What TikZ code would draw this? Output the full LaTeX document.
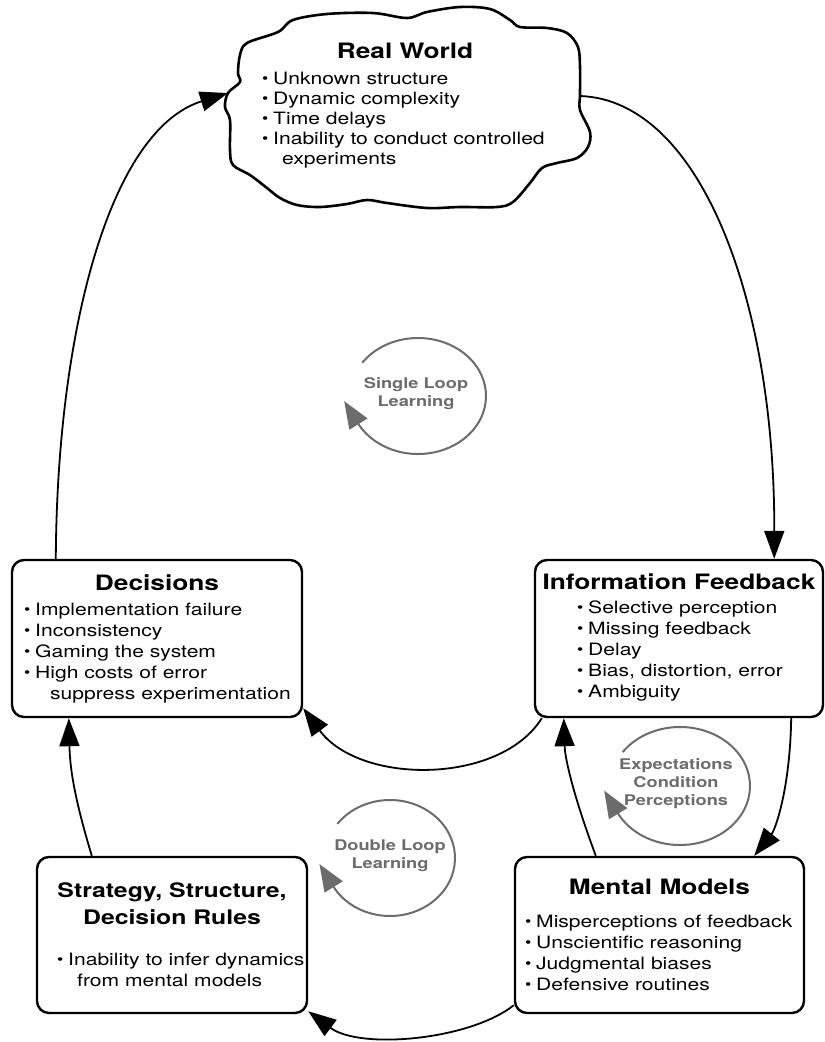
\documentclass[tikz,border=0pt]{standalone}
\usepackage{fontspec}
\setmainfont{TeX Gyre Heros}[FakeStretch=1.24]
\usetikzlibrary{arrows.meta}
\definecolor{loopgray}{RGB}{108,108,108}
\newcommand\bul{\makebox[11pt][l]{\raisebox{1.5pt}{\scalebox{0.85}{•}}}}

\begin{document}
\begin{tikzpicture}[x=1pt,y=-1pt,
  box/.style={draw,line width=2.4pt,rounded corners=12pt,fill=white,inner sep=0pt},
  head/.style={font=\fontsize{21.2}{27}\selectfont\bfseries,align=center,inner sep=0pt},
  items/.style={font=\fontsize{17}{21}\selectfont,align=left,anchor=north west,inner sep=0pt},
  loop/.style={text=loopgray,font=\fontsize{14.7}{18}\selectfont\bfseries,align=center,inner sep=0pt},
  link/.style={line width=1.8pt,-{Triangle[length=28pt,width=20pt]}},
  turn/.style={draw=loopgray,line width=2pt,shorten >=-26pt,-{Triangle[length=27pt,width=21pt]}}]
\useasboundingbox[fill=white] (0,0) rectangle (825,1042);

% real world cloud
\draw[line width=2.6pt,fill=white] plot[smooth cycle,tension=0.55] coordinates {
  (247,43) (278,32) (293,20) (327,14) (373,13) (407,18) (427,12) (460,7) (490,9)
  (510,20) (520,27) (547,28) (567,33) (578,47) (580,67) (580,95) (580,110) (590,132)
  (588,147) (577,158) (557,163) (542,168) (530,183) (513,202) (497,207) (460,207)
  (427,208) (387,203) (367,200) (347,204) (320,207) (297,205) (280,198) (267,188)
  (250,175) (233,165) (230,150) (230,120) (225,107) (228,93) (240,82) (238,73) (240,55)};
\coordinate (wIn) at (228,93);
\coordinate (wOut) at (580,96);
\node[head] (worldT) at (405,51) {Real World};
\node[items,font=\fontsize{17}{20}\selectfont] (worldL) at (262,72) {\bul Unknown structure\\ \bul Dynamic complexity\\ \bul Time delays\\
  \bul Inability to conduct controlled\\ \hspace*{20pt}experiments};

% boxes
\node[box,minimum width=290pt,minimum height=157pt] (dec) at (157,638.5) {};
\node[head] (decT) at (157,583) {Decisions};
\node[items] (decL) at (24,603) {\bul Implementation failure\\ \bul Inconsistency\\ \bul Gaming the system\\
  \bul High costs of error\\ \hspace*{26pt}suppress experimentation};

\node[box,minimum width=288pt,minimum height=157pt] (info) at (679,638.5) {};
\node[head] (infoT) at (679,582) {Information Feedback};
\node[items] (infoL) at (577,601) {\bul Selective perception\\ \bul Missing feedback\\ \bul Delay\\
  \bul Bias, distortion, error\\ \bul Ambiguity};

\node[box,minimum width=289pt,minimum height=156pt] (mm) at (659.5,935) {};
\node[head] (mmT) at (659.5,887) {Mental Models};
\node[items] (mmL) at (525,915) {\bul Misperceptions of feedback\\ \bul Unscientific reasoning\\
  \bul Judgmental biases\\ \bul Defensive routines};

\node[box,minimum width=270pt,minimum height=156pt] (strat) at (172,935) {};
\node[head,font=\fontsize{20}{27}\selectfont\bfseries] (stratT) at (172,903.5) {Strategy, Structure,\\Decision Rules};
\node[items] (stratL) at (57,953) {\bul Inability to infer dynamics\\ \hspace*{20pt}from mental models};

% loops
\node[loop] (single) at (416,394) {Single Loop\\Learning};
\draw[turn] (single.center) ++(2,2) ++(145:68pt and 58pt) arc[start angle=145,end angle=-152,x radius=68pt,y radius=58pt];
\node[loop] (expect) at (676,784) {Expectations\\Condition\\Perceptions};
\draw[turn] (expect.center) ++(4,2) ++(145:70pt and 59pt) arc[start angle=145,end angle=-153,x radius=70pt,y radius=59pt];
\node[loop] (double) at (390,856) {Double Loop\\Learning};
\draw[turn] (double.center) ++(0,2) ++(144:65pt and 58pt) arc[start angle=144,end angle=-151,x radius=65pt,y radius=58pt];

% links
\draw[link] (wOut) .. controls (700,100) and (775,300) .. ([xshift=-50pt]info.north east);
\draw[link] ([xshift=45pt]dec.north west) .. controls (57,330) and (110,130) .. (wIn);
\draw[link] ([xshift=8pt]info.south west) .. controls (500,785) and (360,785) .. ([yshift=10pt]dec.south east);
\draw[link] ([xshift=82pt]mm.north west) .. controls (575,800) and (565,760) .. ([xshift=30pt]info.south west);
\draw[link] ([xshift=-33pt]info.south east) .. controls (790,790) and (775,830) .. ([xshift=-51pt]mm.north east);
\draw[link] ([xshift=56pt]strat.north west) .. controls (75,800) and (70,770) .. ([xshift=58pt]dec.south west);
\draw[link] ([yshift=9pt]mm.south west) .. controls (470,1040) and (360,1050) .. ([yshift=3pt]strat.south east);
\end{tikzpicture}
\end{document}
